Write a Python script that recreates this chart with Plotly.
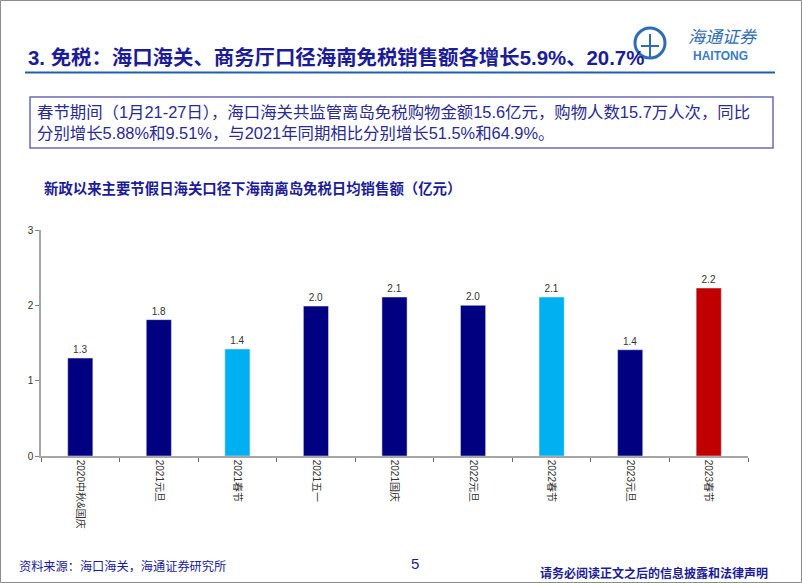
import plotly.graph_objects as go

W, H = 802, 583
L, R, T, B = 41, 54, 230, 127

categories = ["2020中秋&国庆", "2021元旦", "2021春节", "2021五一", "2021国庆",
              "2022元旦", "2022春节", "2023元旦", "2023春节"]
values = [1.30, 1.81, 1.42, 1.99, 2.11, 2.00, 2.11, 1.41, 2.23]
labels = ["1.3", "1.8", "1.4", "2.0", "2.1", "2.0", "2.1", "1.4", "2.2"]
bar_colors = ["#000080", "#000080", "#00B0F0", "#000080", "#000080",
              "#000080", "#00B0F0", "#000080", "#C00000"]
y_ticks = [0, 1, 2, 3]

title_text = "3. 免税：海口海关、商务厅口径海南免税销售额各增长5.9%、20.7%"
box_lines = ["春节期间（1月21-27日），海口海关共监管离岛免税购物金额15.6亿元，购物人数15.7万人次，同比",
             "分别增长5.88%和9.51%，与2021年同期相比分别增长51.5%和64.9%。"]
chart_title = "新政以来主要节假日海关口径下海南离岛免税日均销售额（亿元）"
source_text = "资料来源：海口海关，海通证券研究所"
disclaimer = "请务必阅读正文之后的信息披露和法律声明"
page_no = "5"

PW = W - L - R
PH = H - T - B


def px(x):
    return (x - L) / PW


def py(y):
    return (H - B - y) / PH


CJK = "Liberation Sans, Arial, Noto Sans CJK SC, sans-serif"
NAVY = "#1C1C96"

fig = go.Figure()
fig.add_trace(go.Bar(
    x=categories, y=values, marker_color=bar_colors, width=0.32,
    text=labels, textposition="outside", cliponaxis=False,
    textfont=dict(size=10, color="#333333", family=CJK),
    hoverinfo="skip",
))

shapes = [
    # page border
    dict(type="rect", xref="paper", yref="paper", x0=px(0.5), x1=px(W - 0.5),
         y0=py(H - 0.5), y1=py(0.5), line=dict(color="#8C8C8C", width=1)),
    # title underline
    dict(type="line", xref="paper", yref="paper", x0=px(25), x1=px(775),
         y0=py(72.5), y1=py(72.5), line=dict(color="#1F5FAF", width=2)),
    # text box
    dict(type="rect", xref="paper", yref="paper", x0=px(30), x1=px(773),
         y0=py(148), y1=py(97), line=dict(color="#6B6BB3", width=1.5)),
    # logo circle
    dict(type="circle", xref="paper", yref="paper", x0=px(635), x1=px(665),
         y0=py(58), y1=py(28), line=dict(color="#2E6DB4", width=3)),
    dict(type="line", xref="paper", yref="paper", x0=px(650), x1=px(650),
         y0=py(58), y1=py(34), line=dict(color="#2E6DB4", width=2)),
    dict(type="line", xref="paper", yref="paper", x0=px(641), x1=px(659),
         y0=py(46), y1=py(46), line=dict(color="#2E6DB4", width=2)),
]

annotations = [
    dict(text=title_text, xref="paper", yref="paper", x=px(26), y=py(57),
         xanchor="left", yanchor="middle", showarrow=False,
         font=dict(size=20.4, color=NAVY, family=CJK, weight="bold")),
    dict(text="<br>".join(box_lines), xref="paper", yref="paper", x=px(35), y=py(122.5),
         xanchor="left", yanchor="middle", align="left", showarrow=False,
         font=dict(size=16.4, color="#2B2B8F", family=CJK)),
    dict(text=chart_title, xref="paper", yref="paper", x=px(42), y=py(188),
         xanchor="left", yanchor="middle", showarrow=False,
         font=dict(size=14.4, color=NAVY, family=CJK, weight="bold")),
    dict(text=source_text, xref="paper", yref="paper", x=px(17), y=py(566),
         xanchor="left", yanchor="middle", showarrow=False,
         font=dict(size=12.2, color=NAVY, family=CJK)),
    dict(text=page_no, xref="paper", yref="paper", x=px(415), y=py(563),
         xanchor="center", yanchor="middle", showarrow=False,
         font=dict(size=15, color=NAVY, family=CJK)),
    dict(text=disclaimer, xref="paper", yref="paper", x=px(770), y=py(573),
         xanchor="right", yanchor="middle", showarrow=False,
         font=dict(size=12, color=NAVY, family=CJK, weight="bold")),
    dict(text="<i>海通证券</i>", xref="paper", yref="paper", x=px(723), y=py(35),
         xanchor="center", yanchor="middle", showarrow=False,
         font=dict(size=17, color="#2E6DB4", family="Noto Sans CJK SC")),
    dict(text="HAITONG", xref="paper", yref="paper", x=px(720), y=py(56),
         xanchor="center", yanchor="middle", showarrow=False,
         font=dict(size=12, color="#3A7CC4", family="Liberation Sans", weight="bold")),
]

fig.update_layout(
    width=W, height=H,
    margin=dict(l=L, r=R, t=T, b=B, autoexpand=False),
    paper_bgcolor="white", plot_bgcolor="white",
    showlegend=False,
    shapes=shapes, annotations=annotations,
    xaxis=dict(type="category", tickangle=90, showgrid=False, showline=True,
               linecolor="#A6A6A6", linewidth=1.5, ticks="outside", tickson="boundaries",
               ticklen=4, tickcolor="#666666",
               tickfont=dict(size=10, color="#333333", family=CJK)),
    yaxis=dict(range=[0, 3], tickvals=y_ticks, showgrid=False, showline=True,
               linecolor="#A6A6A6", linewidth=1.5, ticks="outside", ticklen=4,
               tickcolor="#888888", zeroline=False,
               tickfont=dict(size=10, color="#333333", family=CJK)),
)

fig.write_html("out.html")
